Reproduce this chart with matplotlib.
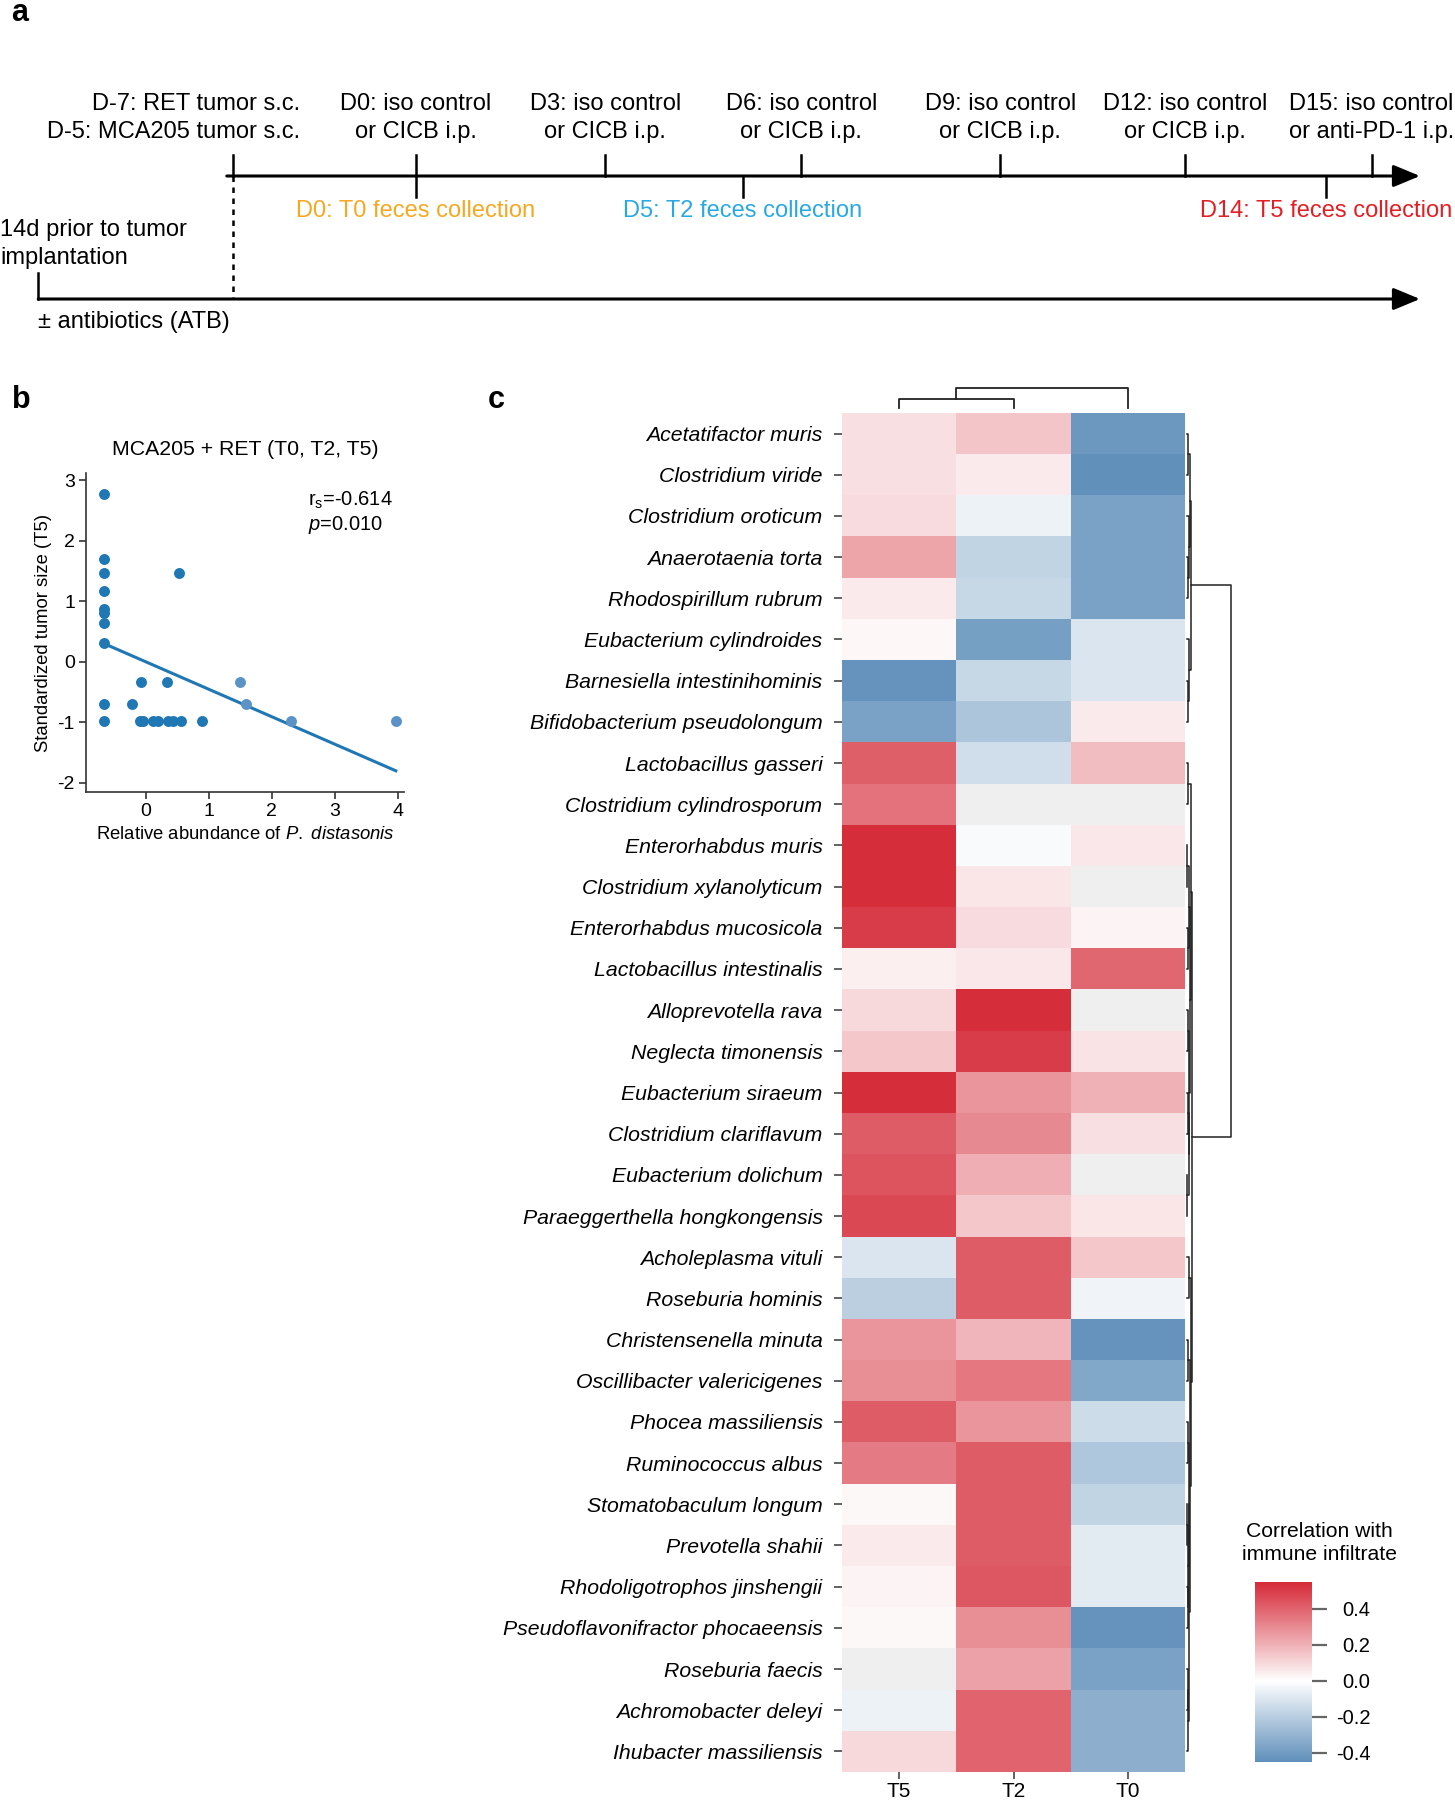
import numpy as np
import matplotlib
matplotlib.use("Agg")
import matplotlib.pyplot as plt
from matplotlib.colors import LinearSegmentedColormap, Normalize

plt.rcParams['font.family'] = ['Liberation Sans', 'DejaVu Sans']
plt.rcParams['axes.unicode_minus'] = False
plt.rcParams['mathtext.fontset'] = 'custom'
plt.rcParams['mathtext.rm'] = 'Liberation Sans'
plt.rcParams['mathtext.it'] = 'Liberation Sans:italic'

# ---------------- data ----------------
# panel a: treatment schedule; the timeline is a schematic, not to scale,
# so each event has a position along the drawn line (roughly in days)
inj_labels = ["D0: iso control\nor CICB i.p.", "D3: iso control\nor CICB i.p.",
              "D6: iso control\nor CICB i.p.", "D9: iso control\nor CICB i.p.",
              "D12: iso control\nor CICB i.p.", "D15: iso control\nor anti-PD-1 i.p."]
inj_pos = [0, 2.97, 6.05, 9.17, 12.07, 15.0]
feces_labels = ["D0: T0 feces collection", "D5: T2 feces collection", "D14: T5 feces collection"]
feces_pos = [0, 5.13, 14.29]
feces_colors = ['#f7a823', '#29a9e1', '#e31e24']
implant_pos = -2.87
atb_start = -5.93
timeline_end = 15.76

# panel b: scatter
abund = [-0.66, -0.66, -0.66, -0.66, -0.66, -0.66, -0.66, -0.66, -0.66, -0.66,
         0.52, -0.07, 0.34, -0.22, -0.09, -0.04, 0.12, 0.20, 0.35, 0.43, 0.56, 0.90]
tumor = [2.775, 1.70, 1.46, 1.17, 0.88, 0.80, 0.64, 0.31, -0.70, -0.97,
         1.46, -0.34, -0.34, -0.70, -0.97, -0.97, -0.97, -0.97, -0.97, -0.97, -0.97, -0.97]
abund_light = [1.49, 1.59, 2.31, 3.97]
tumor_light = [-0.34, -0.70, -0.97, -0.97]

# panel c: heatmap
species = ["Acetatifactor muris", "Clostridium viride", "Clostridium oroticum", "Anaerotaenia torta",
           "Rhodospirillum rubrum", "Eubacterium cylindroides", "Barnesiella intestinihominis",
           "Bifidobacterium pseudolongum", "Lactobacillus gasseri", "Clostridium cylindrosporum",
           "Enterorhabdus muris", "Clostridium xylanolyticum", "Enterorhabdus mucosicola",
           "Lactobacillus intestinalis", "Alloprevotella rava", "Neglecta timonensis",
           "Eubacterium siraeum", "Clostridium clariflavum", "Eubacterium dolichum",
           "Paraeggerthella hongkongensis", "Acholeplasma vituli", "Roseburia hominis",
           "Christensenella minuta", "Oscillibacter valericigenes", "Phocea massiliensis",
           "Ruminococcus albus", "Stomatobaculum longum", "Prevotella shahii",
           "Rhodoligotrophos jinshengii", "Pseudoflavonifractor phocaeensis", "Roseburia faecis",
           "Achromobacter deleyi", "Ihubacter massiliensis"]
timepoints = ["T5", "T2", "T0"]
nan = np.nan
t5 = [0.08, 0.08, 0.09, 0.23, 0.05, 0.02, -0.43, -0.37, 0.41, 0.36, 0.54, 0.54, 0.50, 0.04,
      0.10, 0.14, 0.54, 0.42, 0.44, 0.47, -0.10, -0.19, 0.27, 0.29, 0.42, 0.34, 0.015, 0.05,
      0.03, 0.015, nan, -0.05, 0.10]
t2 = [0.15, 0.05, -0.05, -0.17, -0.16, -0.38, -0.16, -0.23, -0.13, nan, -0.02, 0.065, 0.09,
      0.06, 0.54, 0.50, 0.27, 0.30, 0.21, 0.14, 0.42, 0.42, 0.19, 0.35, 0.27, 0.42, 0.42,
      0.42, 0.43, 0.29, 0.24, 0.40, 0.40]
t0 = [-0.41, -0.44, -0.37, -0.37, -0.37, -0.10, -0.10, 0.05, 0.17, nan, 0.06, nan, 0.03, 0.39,
      nan, 0.07, 0.20, 0.08, nan, 0.065, 0.14, -0.04, -0.43, -0.35, -0.14, -0.22, -0.17,
      -0.08, -0.08, -0.43, -0.37, -0.32, -0.32]

# hierarchical clustering (child a, child b, height); leaves in display order
row_merges = [(0, 1, 0.02), (3, 4, 0.02), (2, 34, 0.04), (33, 35, 0.08), (6, 7, 0.03),
              (5, 37, 0.05), (36, 38, 0.10),
              (8, 9, 0.02), (10, 11, 0.015), (12, 13, 0.03), (41, 42, 0.05), (14, 15, 0.02),
              (16, 17, 0.02), (18, 19, 0.015), (45, 46, 0.04), (44, 47, 0.06), (43, 48, 0.08),
              (40, 49, 0.09), (20, 21, 0.05), (22, 23, 0.03), (24, 25, 0.02), (26, 27, 0.015),
              (28, 29, 0.02), (54, 55, 0.03), (53, 56, 0.04), (30, 31, 0.02), (58, 32, 0.03),
              (57, 59, 0.05), (52, 60, 0.07), (51, 61, 0.10), (50, 62, 0.12),
              (39, 63, 1.0)]
col_merges = [(0, 1, 0.44), (3, 2, 1.0)]

W, H = 1455, 1800


def box(left, top, right, bottom):
    return [left / W, 1 - bottom / H, (right - left) / W, (bottom - top) / H]


def dendro_lines(merges, n_leaves):
    pos = {i: float(i) for i in range(n_leaves)}
    hgt = {i: 0.0 for i in range(n_leaves)}
    segs = []
    for k, (a, b, h) in enumerate(merges):
        segs.append(([pos[a], pos[a], pos[b], pos[b]], [hgt[a], h, h, hgt[b]]))
        pos[n_leaves + k] = (pos[a] + pos[b]) / 2
        hgt[n_leaves + k] = h
    return segs


fig = plt.figure(figsize=(W / 100, H / 100), dpi=100)

# ---------------- panel a ----------------
ax = fig.add_axes(box(0, 0, W, 340))
ax.set_xlim(-6.53, 16.31)
ax.set_ylim(340, 0)
ax.axis('off')
fs = 17
arrow = dict(arrowstyle='-|>,head_length=0.65,head_width=0.27', color='black', lw=2.2,
             mutation_scale=25, shrinkA=0, shrinkB=0)
ax.annotate('', xy=(timeline_end, 176), xytext=(implant_pos - 0.1, 176), arrowprops=arrow)
ax.annotate('', xy=(timeline_end, 299), xytext=(atb_start, 299), arrowprops=arrow)
for d, lab in zip(inj_pos, inj_labels):
    ax.plot([d, d], [155, 176], color='black', lw=1.8)
    ax.text(d, 118, lab, ha='center', va='center', fontsize=fs, linespacing=1.3)
for d, lab, c in zip(feces_pos, feces_labels, feces_colors):
    ax.plot([d, d], [176, 197], color='black', lw=1.8)
    ax.text(d, 211, lab, ha='center', va='center', fontsize=fs, color=c)
ax.plot([implant_pos, implant_pos], [155, 176], color='black', lw=1.8)
ax.plot([implant_pos, implant_pos], [176, 299], color='black', lw=1.8, ls=(0, (2.2, 2.2)))
ax.text(implant_pos + 1.05, 118, "D-7: RET tumor s.c.\nD-5: MCA205 tumor s.c.", ha='right',
        va='center', fontsize=fs, linespacing=1.3, multialignment='right')
ax.plot([atb_start, atb_start], [273, 299], color='black', lw=1.8)
ax.text(-6.53, 244, "14d prior to tumor\nimplantation", ha='left', va='center', fontsize=fs,
        linespacing=1.3)
ax.text(atb_start, 322, "\u00b1 antibiotics (ATB)", ha='left', va='center', fontsize=fs)

fig.text(11 / W, 1 - 13 / H, 'a', fontsize=22, weight='bold', va='center')
fig.text(12 / W, 1 - 400 / H, 'b', fontsize=22, weight='bold', va='center')
fig.text(488 / W, 1 - 400 / H, 'c', fontsize=22, weight='bold', va='center')

# ---------------- panel b ----------------
axb = fig.add_axes(box(86, 473, 404, 792))
axb.scatter(abund, tumor, s=62, color='#1f77b4', linewidths=0, zorder=3)
axb.scatter(abund_light, tumor_light, s=62, color='#5b93c6', linewidths=0, zorder=3)
xa = np.array(abund + abund_light)
ya = np.array(tumor + tumor_light)
slope, icpt = np.polyfit(xa, ya, 1)
xl = np.array([xa.min(), xa.max()])
axb.plot(xl, icpt + slope * xl, color='#1f77b4', lw=2.2, zorder=2)
axb.set_xlim(-0.95, 4.1)
axb.set_ylim(-2.15, 3.12)
axb.set_xticks([0, 1, 2, 3, 4])
axb.set_yticks([-2, -1, 0, 1, 2, 3])
for s in ['top', 'right']:
    axb.spines[s].set_visible(False)
for s in ['left', 'bottom']:
    axb.spines[s].set_color('#333333')
    axb.spines[s].set_linewidth(1.2)
axb.tick_params(labelsize=14, length=5, width=1.2, color='#333333', pad=3)
axb.set_title("MCA205 + RET (T0, T2, T5)", fontsize=15.3, pad=13)
axb.set_xlabel(r"Relative abundance of $\mathit{P.\ distasonis}$", fontsize=13.3, labelpad=4)
axb.set_ylabel("Standardized tumor size (T5)", fontsize=13.3, labelpad=4)
axb.text(2.57, 2.67, r"r$_\mathregular{s}$=-0.614", fontsize=14.5, va='center')
axb.text(2.57, 2.26, r"$\mathit{p}$=0.010", fontsize=14.5, va='center')

# ---------------- panel c ----------------
data = np.column_stack([t5, t2, t0])
cmap = LinearSegmentedColormap.from_list(
    'corr', [(0.0, '#5f8fba'), (0.45, '#ffffff'), (1.0, '#d52a38')])
cmap.set_bad('#efefef')
norm = Normalize(vmin=-0.45, vmax=0.55)

axh = fig.add_axes(box(842, 413, 1185, 1772))
im = axh.imshow(np.ma.masked_invalid(data), cmap=cmap, norm=norm, aspect='auto',
                interpolation='nearest')
axh.set_xticks(range(len(timepoints)))
axh.set_xticklabels(timepoints, fontsize=15)
axh.set_yticks(range(len(species)))
axh.set_yticklabels(species, fontsize=15.3, style='italic')
axh.tick_params(axis='y', length=6, width=1.3, color='#555555', pad=8)
axh.tick_params(axis='x', length=5, width=1.3, color='#555555', pad=2)
for s in axh.spines.values():
    s.set_visible(False)

# column dendrogram
axd = fig.add_axes(box(842, 386, 1185, 413))
for xs, ys in dendro_lines(col_merges, 3):
    axd.plot(xs, ys, color='#222222', lw=1.3, clip_on=False)
axd.set_xlim(-0.5, 2.5)
axd.set_ylim(-0.26, 1.09)
axd.axis('off')

# row dendrogram
axr = fig.add_axes(box(1185, 413, 1235, 1772))
for xs, ys in dendro_lines(row_merges, len(species)):
    axr.plot(ys, xs, color='#222222', lw=1.1, clip_on=False)
axr.set_ylim(len(species) - 0.5, -0.5)
axr.set_xlim(-0.04, 1.1)
axr.axis('off')

# colorbar
cax = fig.add_axes(box(1255, 1582, 1312, 1762))
cb = fig.colorbar(im, cax=cax, ticks=[0.4, 0.2, 0.0, -0.2, -0.4])
cb.outline.set_visible(False)
cb.ax.set_yticklabels(['0.4', '0.2', '0.0', '-0.2', '-0.4'], ha='right')
cax.tick_params(length=11, width=1.6, color='#666666', labelsize=14.5, pad=31)
fig.text(1319 / W, 1 - 1543 / H, "Correlation with\nimmune infiltrate", ha='center',
         va='center', fontsize=15.2, linespacing=1.3)

fig.savefig('out.png', dpi=100)
